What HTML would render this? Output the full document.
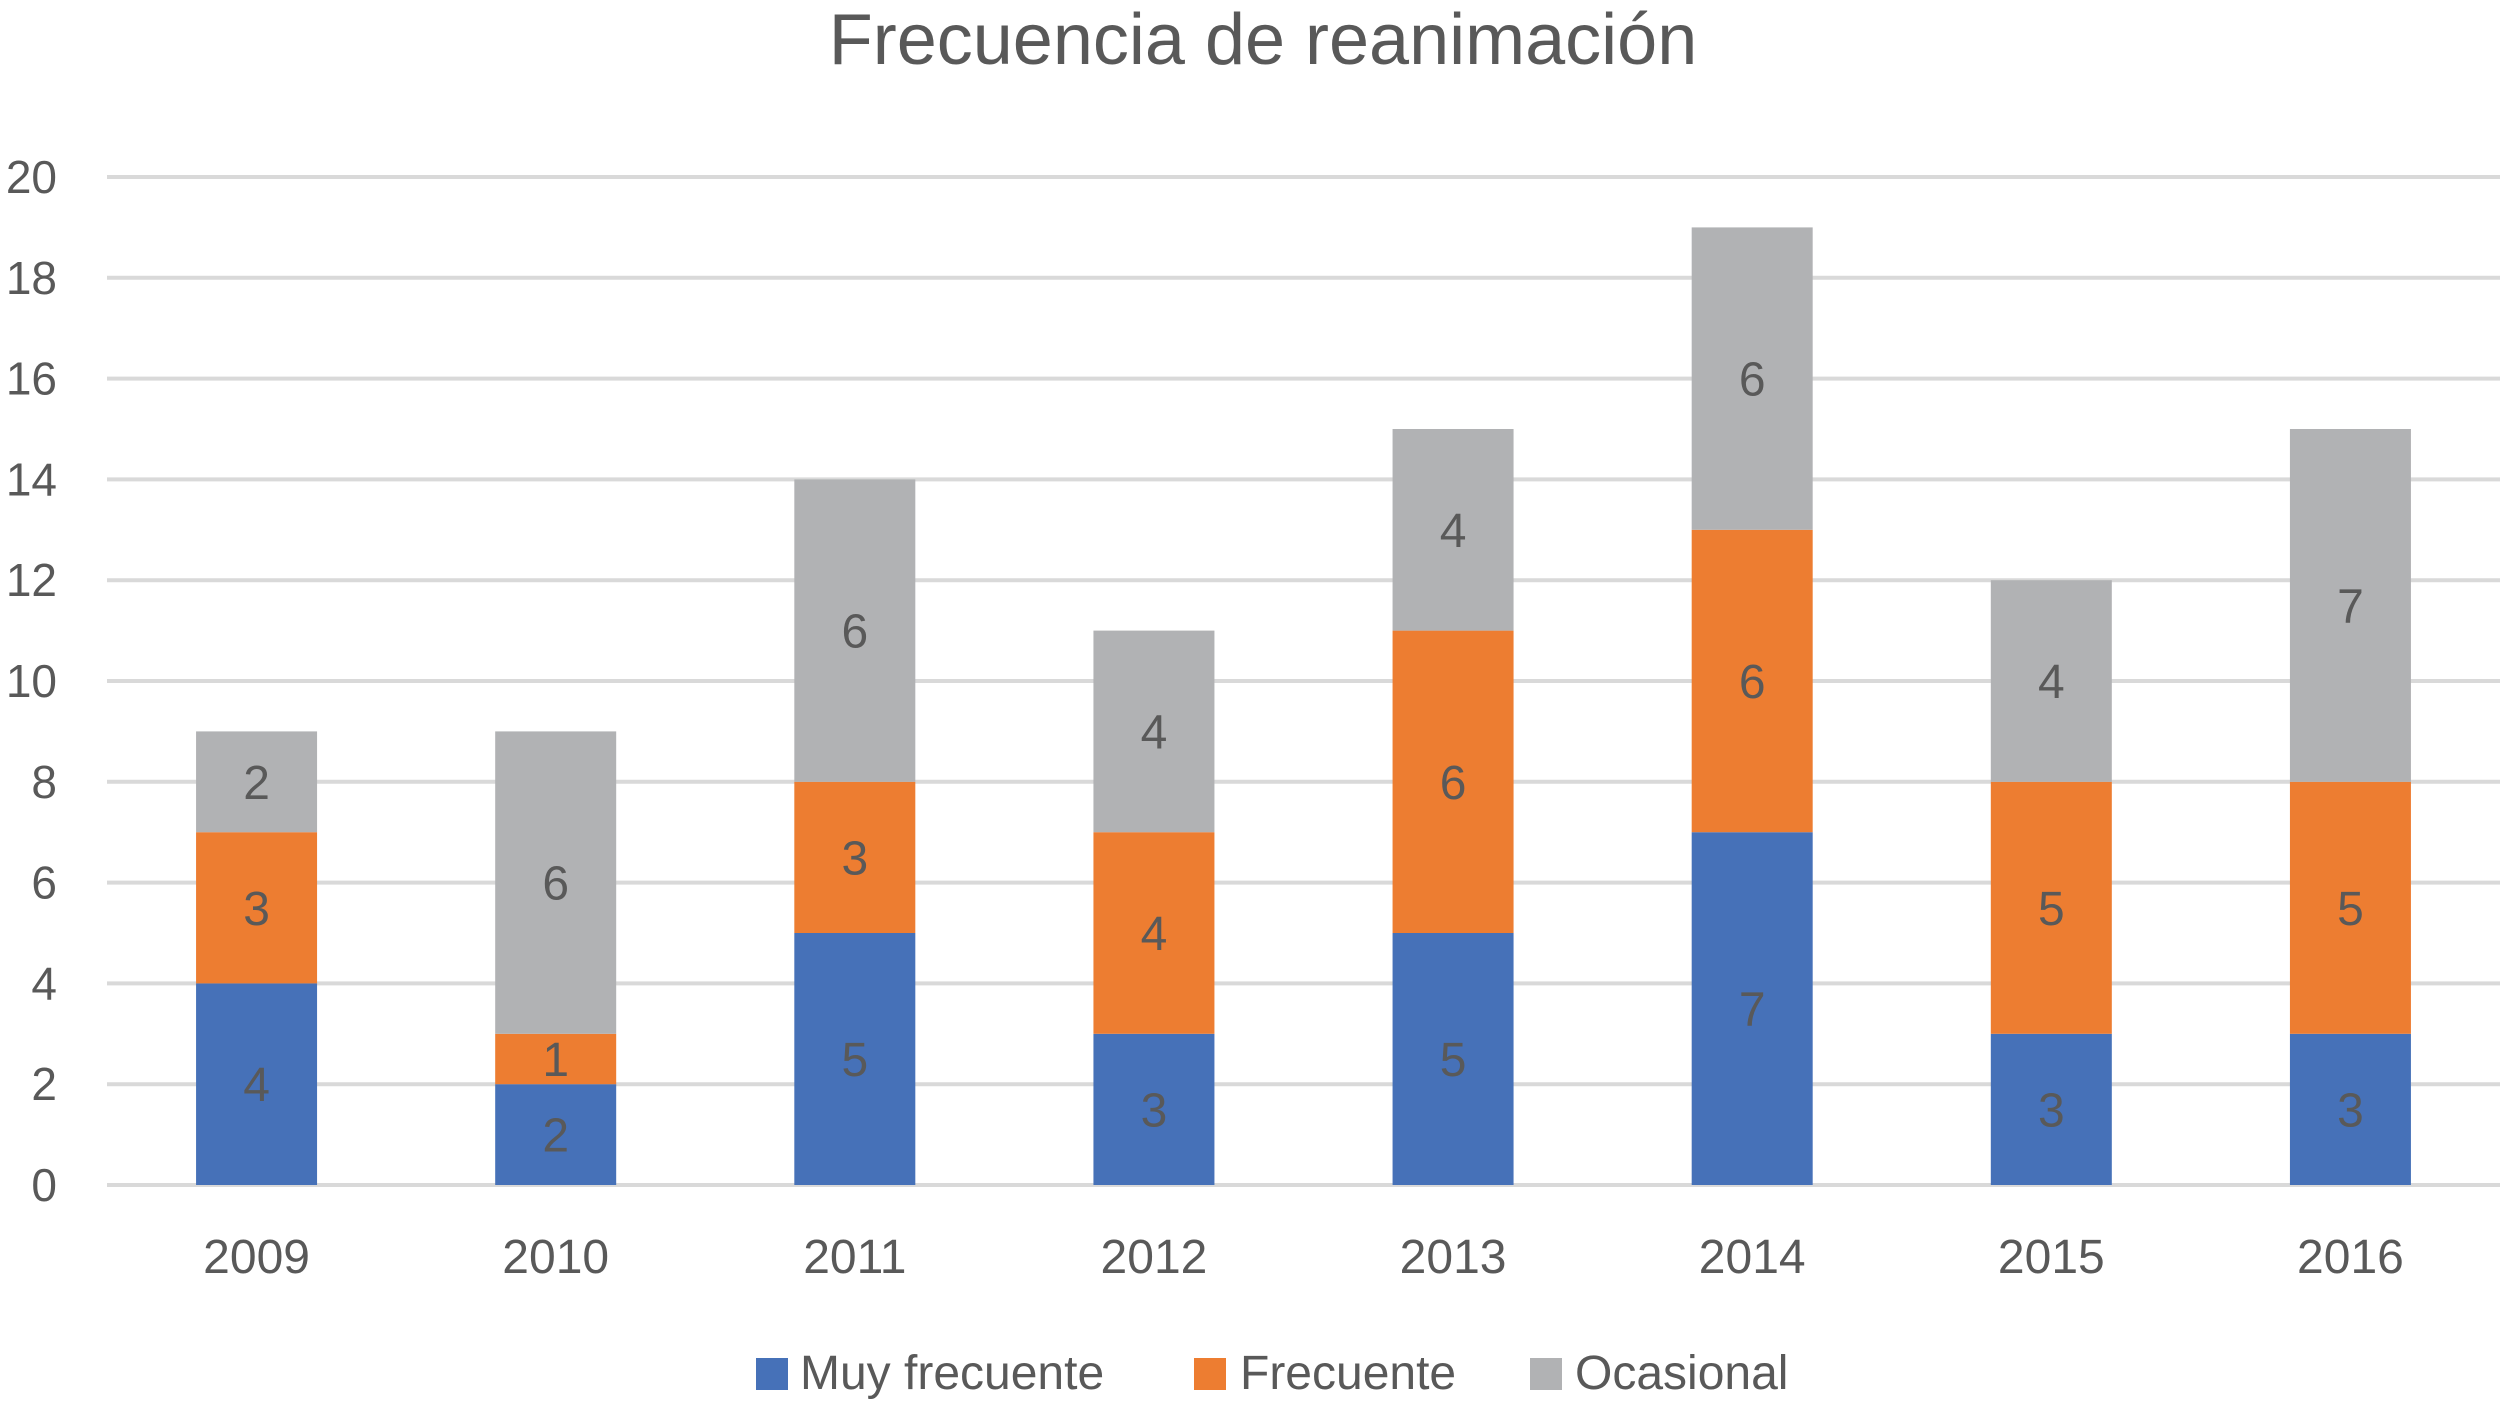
<!DOCTYPE html>
<html><head><meta charset="utf-8"><style>
body{margin:0;background:#fff}
svg text{font-family:"Liberation Sans",sans-serif}
</style></head><body>
<svg id="chart" width="2500" height="1408" viewBox="0 0 2500 1408">
<text x="1263" y="64" font-size="72" fill="#595959" text-anchor="middle">Frecuencia de reanimación</text>
<g id="grid"></g><g id="bars"></g><g id="labels"></g>
<g>
<rect x="756" y="1358" width="32" height="32" fill="#4671B8"/>
<text x="800" y="1389" font-size="48" fill="#595959">Muy frecuente</text>
<rect x="1194" y="1358" width="32" height="32" fill="#ED7D31"/>
<text x="1240" y="1389" font-size="48" fill="#595959">Frecuente</text>
<rect x="1530" y="1358" width="32" height="32" fill="#B1B2B4"/>
<text x="1575" y="1389" font-size="48" fill="#595959">Ocasional</text>
</g>
</svg>
<script>
const categories=["2009","2010","2011","2012","2013","2014","2015","2016"];
const muyFrecuente=[4,2,5,3,5,7,3,3];
const frecuente=[3,1,3,4,6,6,5,5];
const ocasional=[2,6,6,4,4,6,4,7];
const yTicks=[0,2,4,6,8,10,12,14,16,18,20];
const NS="http://www.w3.org/2000/svg";
const x0=107,x1=2500,yBase=1185,yMax=20,yTop=177;
const band=(x1-x0)/categories.length,bw=121;
function y(v){return yBase-(yBase-yTop)*v/yMax;}
function cx(i){return x0+band*(i+0.5);}
function mk(tag,attrs,parent){const e=document.createElementNS(NS,tag);for(const k in attrs)e.setAttribute(k,attrs[k]);document.getElementById(parent).appendChild(e);return e;}
yTicks.forEach(t=>{
 const l=mk('line',{x1:x0,x2:x1,y1:y(t),y2:y(t),stroke:'#D9D9D9','stroke-width':4},'grid');
 
 
 const tx=mk('text',{x:57,y:y(t)+16,'font-size':46,fill:'#595959','text-anchor':'end'},'grid');
 tx.textContent=t;
 
 
});
const series=[[muyFrecuente,'#4671B8','muy-frecuente'],[frecuente,'#ED7D31','frecuente'],[ocasional,'#B1B2B4','ocasional']];
categories.forEach((c,i)=>{
 let acc=0;
 series.forEach(s=>{
  const v=s[0][i];
  const r=mk('rect',{x:cx(i)-bw/2,y:y(acc+v),width:bw,height:y(acc)-y(acc+v),fill:s[1]},'bars');
  
  
  const t=mk('text',{x:cx(i),y:(y(acc)+y(acc+v))/2+17,'font-size':48,fill:'#595959','text-anchor':'middle'},'labels');
  t.textContent=v;
  
  
  acc+=v;
 });
 const xl=mk('text',{x:cx(i),y:1273,'font-size':48,fill:'#595959','text-anchor':'middle'},'labels');
 xl.textContent=c;
 
 
});
</script>
</body></html>
